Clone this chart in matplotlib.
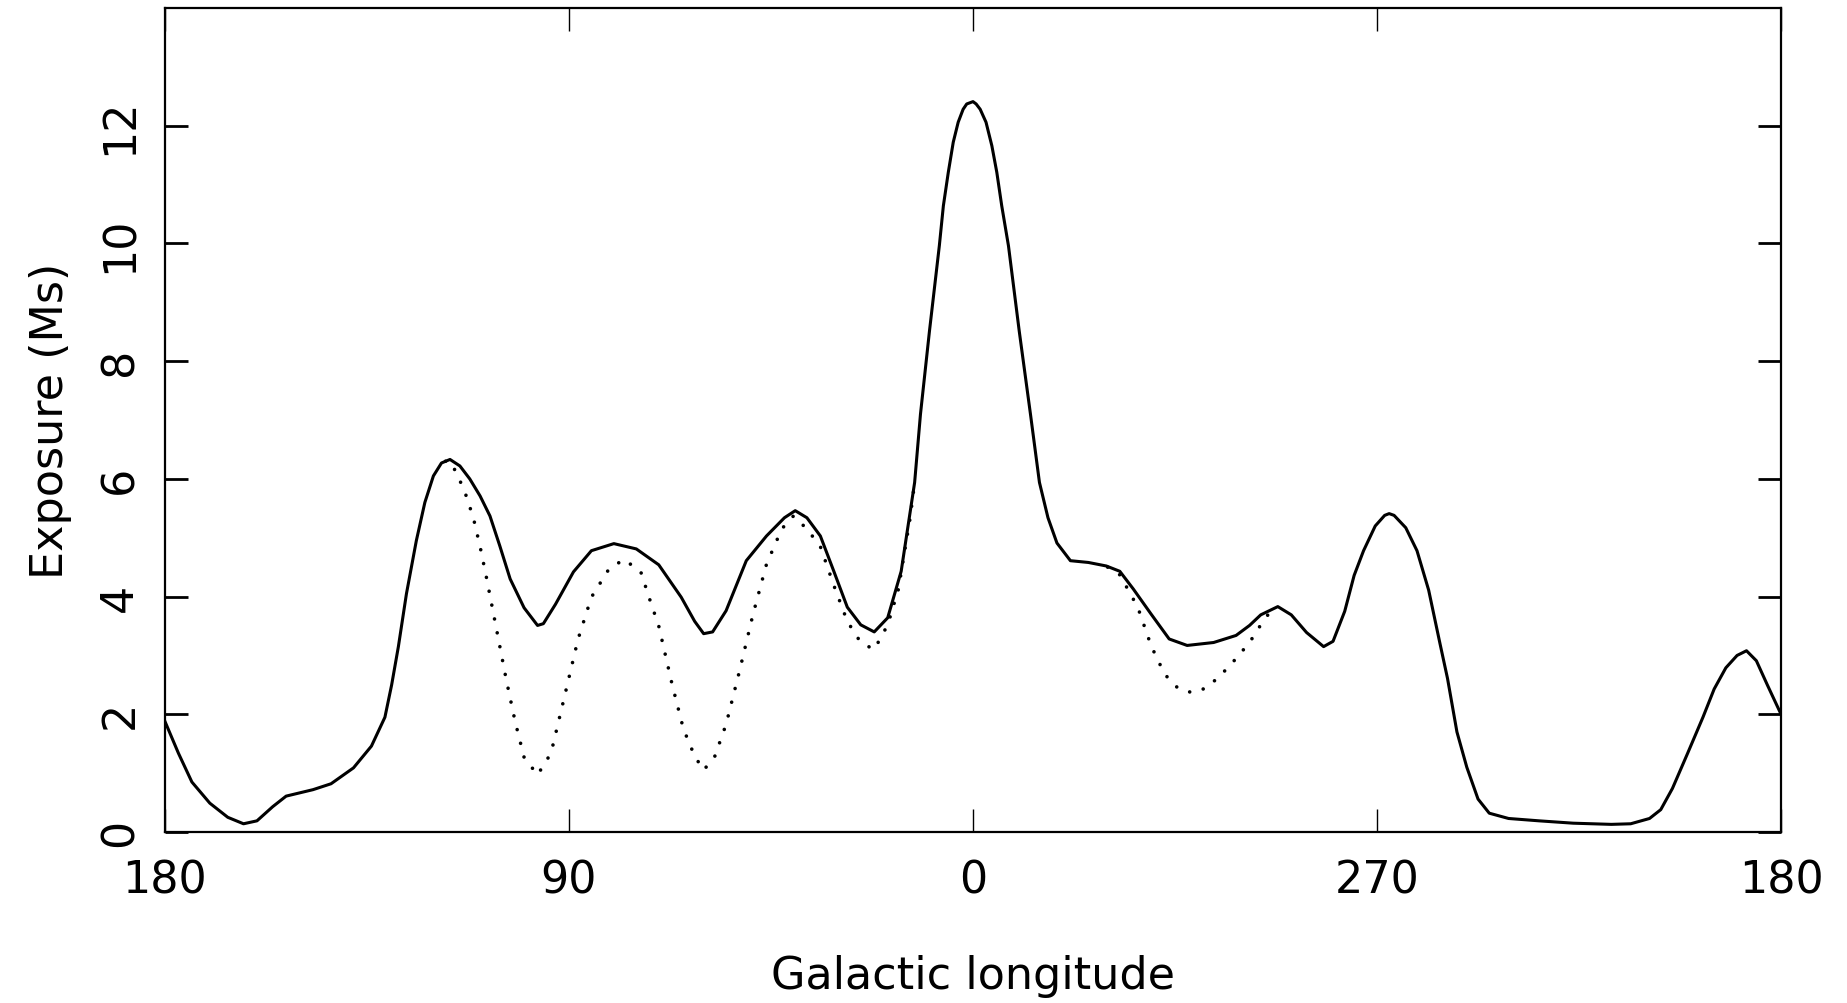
import matplotlib
matplotlib.use("Agg")
import numpy as np
import matplotlib.pyplot as plt

# galactic longitude, plotted from 180 down through 0 to -180 (= 180)
lon = [180, 177, 174, 170, 166, 162.5, 159.5, 156, 153, 147, 143, 138, 134, 131,
       129.5, 128, 126.2, 124, 122.1, 120.2, 118.4, 116.5, 114.3, 112.1, 109.8,
       107.6, 105.4, 103.1, 100, 97, 95.7, 93,
       89, 85, 80, 75, 70, 65, 62, 60, 58, 55, 50.5, 46, 42, 39.6, 37, 34, 31, 28,
       25, 22, 19, 16, 13, 11.7, 9.7, 7.5, 6.6, 5.5, 4.4, 3.3, 2.2, 1.4, 0,
       -0.7, -1.6, -2.9, -4.2, -5.3, -6.4, -7.9, -10.3,
       -12.8, -14.8, -16.7, -18.7, -21.7, -25.7, -29.7, -32.7, -35.7, -39.7,
       -43.7, -47.7, -53.6, -58.6, -61.6, -64.1, -67.9, -70.9, -74.3, -78.1,
       -80.2, -82.8, -84.9, -87, -89.6, -91.7, -92.7, -93.8, -96.4, -98.9, -101.5,
       -104, -105.7, -107.8, -110, -112.5, -115, -119.3, -126.1, -133.7,
       -142.2, -146.5, -150.7, -153.2, -155.8, -159.2, -162.6, -165.1, -167.7,
       -170.2, -172.3, -174.5, -177, -180]
exposure = [1.88, 1.34, 0.85, 0.49, 0.25, 0.14, 0.19, 0.43, 0.61, 0.72, 0.82, 1.09,
            1.46, 1.95, 2.50, 3.15, 4.05, 4.95, 5.60, 6.05, 6.27, 6.33, 6.22, 6.00,
            5.71, 5.37, 4.86, 4.30, 3.81, 3.51, 3.54, 3.87,
            4.42, 4.78, 4.90, 4.81, 4.54, 3.99, 3.58, 3.37,
            3.40, 3.76, 4.61, 5.03, 5.34, 5.46, 5.34, 5.03, 4.43, 3.82, 3.52, 3.40,
            3.64, 4.43, 5.94, 7.10, 8.51, 9.96, 10.64, 11.21, 11.72, 12.06, 12.28,
            12.37, 12.41, 12.37, 12.28, 12.06, 11.66, 11.21, 10.64, 9.96, 8.51,
            7.10, 5.94, 5.34, 4.91, 4.61, 4.58, 4.52, 4.43, 4.13, 3.70,
            3.28, 3.17, 3.22, 3.34, 3.51, 3.69, 3.83, 3.69, 3.39, 3.15, 3.24, 3.75,
            4.36, 4.78, 5.20, 5.38, 5.41, 5.38, 5.17, 4.78, 4.11, 3.21, 2.61, 1.70,
            1.10, 0.56, 0.32, 0.23, 0.19, 0.15, 0.13, 0.14, 0.23, 0.38, 0.74, 1.34,
            1.95, 2.43, 2.79, 3.00, 3.08, 2.91, 2.49, 2.00]

# dotted curve, where it departs from the solid one
dot_lon1 = [117.5, 116.4, 114.7, 113.2, 111.3, 109.8, 108.5, 106, 104, 102, 100,
            97, 94, 91, 88, 85, 81, 77.7, 74, 72, 70, 67, 64.5, 62, 60, 57.5, 55,
            52, 49, 46, 42.6, 40, 37, 34, 31, 28, 25, 22, 19, 16.6, 14, 13]
dot_exp1 = [6.30, 6.30, 6.04, 5.78, 5.34, 4.85, 4.37, 3.39, 2.60, 1.88, 1.27, 0.97,
            1.34, 2.30, 3.27, 3.99, 4.48, 4.63, 4.42, 3.95, 3.50, 2.50, 1.75, 1.29,
            1.05, 1.29, 1.83, 2.74, 3.70, 4.55, 5.15, 5.37, 5.15, 4.85, 4.19, 3.58,
            3.22, 3.10, 3.52, 4.13, 5.34, 5.94]
dot_lon2 = [-30, -32.7, -36.7, -39.7, -42.7, -45.7, -48.7, -51.7, -54.6, -57.6,
            -61.6, -64.6, -66]
dot_exp2 = [4.50, 4.37, 3.82, 3.16, 2.68, 2.44, 2.37, 2.44, 2.62, 2.86, 3.22, 3.58,
            3.72]

xticks = [180, 90, 0, -90, -180]
xticklabels = ['180', '90', '0', '270', '180']
yticks = [0, 2, 4, 6, 8, 10, 12]

plt.rcParams['font.family'] = 'DejaVu Sans'
fig = plt.figure(figsize=(18.47, 10.04), dpi=100)
ax = fig.add_axes([0.0893, 0.1703, 0.8750, 0.8207])

ax.plot(lon, exposure, color='black', lw=2.2, solid_joinstyle='round')
for dl, de in [(dot_lon1, dot_exp1), (dot_lon2, dot_exp2)]:
    ax.plot(dl, de, color='black', lw=2.6, linestyle=(0, (0.01, 3.9)),
            dash_capstyle='round')

ax.set_xlim(180, -180)
ax.set_ylim(0, 14)
ax.set_xticks(xticks)
ax.set_xticklabels(xticklabels)
ax.set_yticks(yticks)
ax.set_yticklabels([str(v) for v in yticks], rotation=90, va='center')

for s in ax.spines.values():
    s.set_linewidth(1.6)
ax.tick_params(axis='x', direction='in', length=16.5, width=1.0, top=True,
               labelsize=32, pad=19)
ax.tick_params(axis='y', direction='in', length=16.5, width=2.0, right=True,
               labelsize=32, pad=17)

ax.set_xlabel('Galactic longitude', fontsize=32, labelpad=38)
ax.set_ylabel('Exposure (Ms)', fontsize=32, labelpad=19)

fig.savefig('out.png', dpi=100)
